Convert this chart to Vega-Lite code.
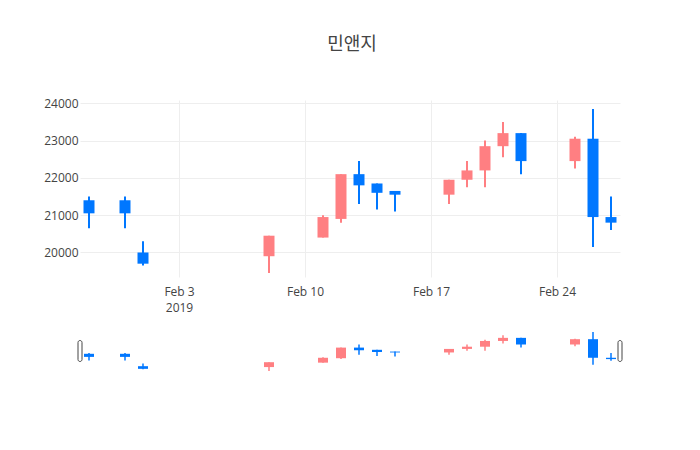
{
  "$schema": "https://vega.github.io/schema/vega-lite/v6.json",
  "background": "white",
  "padding": {"left": 43, "top": 36, "right": 10, "bottom": 10},
  "title": {
    "text": "민앤지",
    "font": "Open Sans, Noto Sans CJK KR",
    "fontSize": 18,
    "fontWeight": "normal",
    "color": "#444",
    "anchor": "middle",
    "offset": 43,
    "dx": 19
  },
  "data": {
    "values": [
      {"date": "2019-01-29", "open": 21400, "high": 21500, "low": 20650, "close": 21050},
      {"date": "2019-01-31", "open": 21400, "high": 21500, "low": 20650, "close": 21050},
      {"date": "2019-02-01", "open": 20000, "high": 20300, "low": 19650, "close": 19700},
      {"date": "2019-02-08", "open": 19900, "high": 20450, "low": 19450, "close": 20450},
      {"date": "2019-02-11", "open": 20400, "high": 21000, "low": 20400, "close": 20950},
      {"date": "2019-02-12", "open": 20900, "high": 22100, "low": 20800, "close": 22100},
      {"date": "2019-02-13", "open": 22100, "high": 22450, "low": 21300, "close": 21800},
      {"date": "2019-02-14", "open": 21850, "high": 21850, "low": 21150, "close": 21600},
      {"date": "2019-02-15", "open": 21650, "high": 21650, "low": 21100, "close": 21550},
      {"date": "2019-02-18", "open": 21550, "high": 21950, "low": 21300, "close": 21950},
      {"date": "2019-02-19", "open": 21950, "high": 22450, "low": 21750, "close": 22200},
      {"date": "2019-02-20", "open": 22200, "high": 23000, "low": 21750, "close": 22850},
      {"date": "2019-02-21", "open": 22850, "high": 23500, "low": 22550, "close": 23200},
      {"date": "2019-02-22", "open": 23200, "high": 23200, "low": 22100, "close": 22450},
      {"date": "2019-02-25", "open": 22450, "high": 23100, "low": 22250, "close": 23050},
      {"date": "2019-02-26", "open": 23050, "high": 23850, "low": 20150, "close": 20950},
      {"date": "2019-02-27", "open": 20950, "high": 21500, "low": 20600, "close": 20800}
    ]
  },
  "spacing": 17,
  "vconcat": [
    {
      "width": 540,
      "height": 177,
      "encoding": {
        "x": {
          "field": "date",
          "type": "temporal",
          "title": null,
          "scale": {
            "type": "utc",
            "padding": 0,
            "domain": [
              {"year": 2019, "month": 1, "date": 28, "hours": 12, "utc": true},
              {"year": 2019, "month": 2, "date": 27, "hours": 12, "utc": true}
            ]
          },
          "axis": {
            "values": [
              {"year": 2019, "month": 2, "date": 3, "utc": true},
              {"year": 2019, "month": 2, "date": 10, "utc": true},
              {"year": 2019, "month": 2, "date": 17, "utc": true},
              {"year": 2019, "month": 2, "date": 24, "utc": true}
            ],
            "labelExpr": "utcdate(datum.value) == 3 ? [utcFormat(datum.value, '%b %-d'), '2019'] : utcFormat(datum.value, '%b %-d')",
            "grid": true,
            "gridColor": "#eee",
            "domain": false,
            "ticks": false,
            "tickSize": 0,
            "labelPadding": 9,
            "labelFont": "Open Sans",
            "labelFontSize": 12,
            "labelColor": "#444",
            "labelLineHeight": 16
          }
        },
        "y": {
          "type": "quantitative",
          "scale": {"domain": [19343, 24088], "nice": false, "zero": false},
          "axis": {
            "title": null,
            "values": [20000, 21000, 22000, 23000, 24000],
            "format": "d",
            "grid": true,
            "gridColor": "#eee",
            "domain": false,
            "ticks": false,
            "tickSize": 0,
            "labelPadding": 2,
            "labelFont": "Open Sans",
            "labelFontSize": 12,
            "labelColor": "#444"
          }
        },
        "color": {
          "condition": {"test": "datum.close > datum.open", "value": "#ff7f82"},
          "value": "#0077ff"
        }
      },
      "layer": [
        {
          "mark": {"type": "rule", "strokeWidth": 2},
          "encoding": {
            "y": {"field": "low", "type": "quantitative"},
            "y2": {"field": "high"}
          }
        },
        {
          "mark": {"type": "bar", "size": 11},
          "encoding": {
            "y": {"field": "open", "type": "quantitative"},
            "y2": {"field": "close"}
          }
        }
      ]
    },
    {
      "width": 540,
      "height": 42,
      "layer": [
        {
          "encoding": {
            "x": {
              "field": "date",
              "type": "temporal",
              "scale": {
                "type": "utc",
                "padding": 0,
                "domain": [
                  {"year": 2019, "month": 1, "date": 28, "hours": 12, "utc": true},
                  {"year": 2019, "month": 2, "date": 27, "hours": 12, "utc": true}
                ]
              },
              "axis": null
            },
            "y": {
              "type": "quantitative",
              "scale": {"domain": [19343, 24088], "nice": false, "zero": false},
              "axis": null
            },
            "color": {
              "condition": {"test": "datum.close > datum.open", "value": "#ff7f82"},
              "value": "#0077ff"
            }
          },
          "layer": [
            {
              "mark": {"type": "rule", "strokeWidth": 1.5},
              "encoding": {
                "y": {"field": "low", "type": "quantitative"},
                "y2": {"field": "high"}
              }
            },
            {
              "mark": {"type": "bar", "size": 10},
              "encoding": {
                "y": {"field": "open", "type": "quantitative"},
                "y2": {"field": "close"}
              }
            }
          ]
        },
        {
          "data": {
            "values": [
              {"edge": "2019-01-28T12:00:00Z", "lo": 0.25, "hi": 0.75},
              {"edge": "2019-02-27T12:00:00Z", "lo": 0.25, "hi": 0.75}
            ]
          },
          "mark": {"type": "bar", "size": 4, "fill": "white", "stroke": "#444", "strokeWidth": 1, "cornerRadius": 2},
          "encoding": {
            "x": {"field": "edge", "type": "temporal", "axis": null},
            "y": {"field": "lo", "type": "quantitative", "scale": {"domain": [0, 1]}, "axis": null},
            "y2": {"field": "hi"}
          }
        }
      ],
      "resolve": {"scale": {"y": "independent"}}
    }
  ],
  "config": {
    "view": {"stroke": null}
  }
}
